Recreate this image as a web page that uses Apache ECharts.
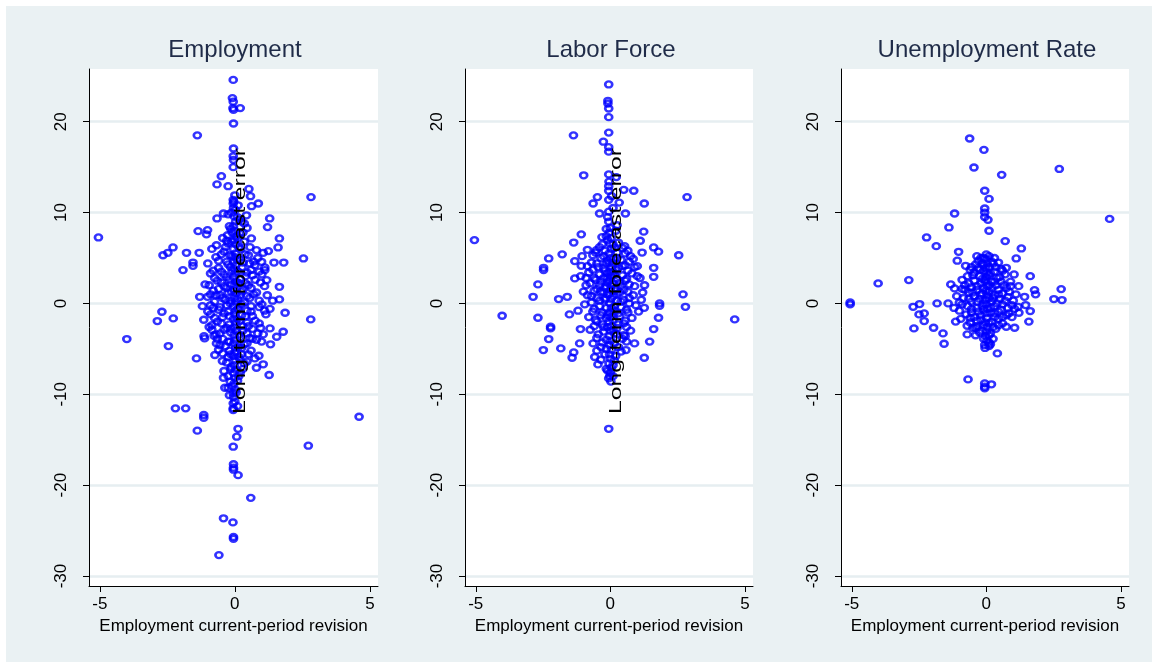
<!DOCTYPE html>
<html>
<head>
<meta charset="utf-8">
<script src="https://cdn.jsdelivr.net/npm/echarts@6/dist/echarts.min.js"></script>
<style>
html,body{margin:0;padding:0;background:#ffffff;width:1152px;height:662px;overflow:hidden;}
#c{position:absolute;left:6px;top:6px;width:1146px;height:656px;}
</style>
</head>
<body>
<div id="c"></div>
<script>
// ---- Data ----
const panelTitles = ['Employment', 'Labor Force', 'Unemployment Rate'];
const xAxisTitle = 'Employment current-period revision';
const yAxisTitle = 'Long-term forecast error';
const xTickValues = [-5, 0, 5];
const yTickValues = [-30, -20, -10, 0, 10, 20];

// [current-period revision, long-term forecast error]
const employmentPoints = [
[-0.06,24.6],[-0.09,22.6],[-0.06,22.2],[-0.07,21.5],[0.2,21.5],[-0.05,21.3],[-0.05,19.8],[-1.39,18.5],[-0.05,17.05],[-0.06,16.2],[-0.05,15.8],[-0.06,15.0],[-0.5,14.0],[-0.66,13.1],[-0.25,12.9],[0.52,12.6],[0.58,11.8],[2.82,11.7],[-0.06,11.4],[-0.06,11.0],[0.87,11.0],[0.62,10.7],[-0.05,10.5],[-0.42,9.9],[0.43,9.7],[-0.66,9.35],[1.29,9.35],[1.21,8.4],[-1.36,7.96],[-1.01,8.07],[-1.05,7.6],[-5.05,7.26],[-0.27,7.5],[0.61,7.15],[1.65,7.15],[-0.68,6.4],[-2.29,6.16],[1.6,6.16],[0.56,6.2],[0.8,5.87],[1.24,5.76],[-2.48,5.57],[-2.66,5.3],[-1.79,5.57],[-1.32,5.57],[1.05,5.57],[2.54,4.95],[-1.55,4.5],[-1.55,4.14],[-1.92,3.67],[1.45,4.5],[1.81,4.5],[0.99,4.58],[1.11,3.96],[1.11,3.67],[0.74,4.2],[1.18,2.57],[1.65,1.83],[1.65,0.44],[-1.3,0.73],[-1.01,0.73],[1.86,-1.03],[-2.7,-0.92],[-2.87,-1.94],[-2.28,-1.65],[2.81,-1.76],[1.79,-3.12],[1.55,-3.67],[1.3,-2.75],[1.32,-4.5],[0.99,-4.2],[-4.0,-3.92],[-2.46,-4.69],[-1.14,-3.6],[-1.12,-3.85],[-0.77,-3.56],[-0.68,-4.4],[-1.42,-6.05],[-0.74,-5.68],[-0.46,-6.34],[0.89,-5.76],[0.74,-6.05],[1.05,-6.7],[0.8,-7.08],[1.27,-7.88],[-0.4,-7.44],[-0.42,-8.18],[-0.37,-9.28],[-0.25,-9.28],[-0.06,-9.9],[-0.06,-11.0],[-0.06,-11.55],[-0.06,-11.73],[-2.2,-11.55],[-1.82,-11.55],[-1.15,-12.28],[-1.15,-12.58],[4.6,-12.47],[-1.39,-14.0],[0.12,-13.8],[0.07,-14.67],[-0.06,-15.77],[2.72,-15.66],[-0.05,-17.7],[-0.05,-18.08],[-0.05,-18.3],[0.12,-18.9],[0.59,-21.4],[-0.42,-23.65],[-0.07,-24.1],[-0.05,-25.7],[-0.05,-25.9],[-0.59,-27.7],
[0.0,11.9],[-0.04,11.2],[0.02,10.3],[-0.03,9.6],[0.03,9.0],[-0.05,8.5],[0.0,8.0],[0.05,7.4],[-0.02,7.0],[0.03,6.5],[-0.05,6.0],[0.02,5.5],[0.0,5.1],[-0.04,4.6],[0.04,4.2],[-0.02,3.8],[0.01,3.3],[-0.05,2.9],[0.03,2.4],[0.0,2.0],[-0.03,1.5],[0.04,1.1],[-0.01,0.6],[0.02,0.2],[-0.04,-0.3],[0.03,-0.8],[0.0,-1.2],[-0.05,-1.7],[0.02,-2.1],[-0.02,-2.6],[0.04,-3.0],[-0.03,-3.5],[0.01,-4.0],[-0.04,-4.4],[0.03,-4.9],[0.0,-5.4],[-0.05,-5.8],[0.02,-6.3],[-0.02,-6.8],[0.03,-7.3],[-0.04,-7.7],[0.0,-8.2],[-0.03,-8.8],[0.02,-9.5],[-0.05,-10.3],[0.0,-10.8],
[0.15,9.2],[-0.15,8.2],[0.18,7.7],[-0.12,6.8],[0.14,6.2],[-0.18,5.3],[0.2,4.8],[-0.16,4.0],[0.12,3.5],[-0.2,2.6],[0.17,2.2],[-0.13,1.3],[0.2,0.9],[-0.17,0.0],[0.14,-0.6],[-0.2,-1.4],[0.18,-1.9],[-0.14,-2.8],[0.16,-3.4],[-0.18,-4.2],[0.13,-4.8],[-0.15,-5.6],[0.19,-6.2],[-0.13,-7.0],[0.15,-8.0],[-0.17,-8.6],
[-0.35,6.2],[-0.5,5.4],[-0.3,4.6],[-0.6,3.9],[-0.4,3.2],[-0.75,2.8],[-0.5,2.3],[-0.3,1.7],[-0.8,1.4],[-0.55,0.9],[-0.35,0.4],[-0.9,-0.2],[-0.6,-0.7],[-0.4,-1.1],[-0.75,-1.6],[-0.5,-2.2],[-0.3,-2.7],[-0.85,-2.9],[-0.55,-3.3],[-0.35,-4.7],[-0.6,-5.1],[-1.0,4.4],[-0.9,3.3],[-1.1,2.1],[-1.0,-0.9],[-1.15,-1.8],[-0.95,-2.6],[-0.7,5.1],[-0.85,6.0],[-0.45,7.2],[0.35,6.8],[0.5,5.3],[0.3,4.5],[0.6,3.7],[0.4,3.0],[0.75,2.6],[0.5,2.0],[0.3,1.5],[0.8,1.2],[0.55,0.6],[0.35,0.1],[0.9,-0.4],[0.6,-0.9],[0.4,-1.4],[0.75,-1.9],[0.5,-2.5],[0.3,-3.0],[0.85,-3.3],[0.55,-3.8],[0.35,-4.5],[0.6,-5.2],[1.0,3.2],[1.1,1.9],[1.2,0.9],[1.0,-0.1],[1.15,-1.2],[0.95,-2.7],[0.7,4.6],[0.85,5.0],[0.45,8.3],[0.25,9.0],[1.3,-0.6],[1.4,0.3],[-1.2,-0.3],[0.25,-5.6],[-0.25,-5.9],[0.3,-7.2],[-0.3,6.9],[-0.2,8.5],[0.3,7.8],[0.65,-3.9],[-0.65,-3.9],[1.05,-3.4],[-0.9,1.0],[0.45,-6.4],
[-0.1,7.8],[0.1,7.2],[-0.25,6.6],[0.22,6.0],[-0.4,5.7],[0.38,5.4],[-0.1,5.2],[0.08,4.8],[-0.6,4.7],[0.55,4.4],[-0.25,4.3],[0.27,4.0],[-0.8,3.6],[0.9,3.5],[-0.1,3.6],[0.45,3.4],[-0.5,3.5],[0.65,3.1],[-0.3,2.9],[0.2,2.7],[-0.65,2.5],[0.1,2.3],[-0.15,2.1],[0.4,2.2],[-0.95,2.0],[0.95,2.3],[-0.4,1.9],[0.6,1.7],[-0.6,1.6],[0.25,1.3],[-0.25,1.2],[0.7,1.0],[-0.7,0.9],[0.45,0.8],[-0.45,0.6],[0.1,0.5],[-0.15,0.3],[0.9,0.3],[-0.75,0.2],[0.25,-0.1],[-0.3,-0.2],[0.6,-0.3],[-0.55,-0.4],[0.1,-0.6],[-0.8,-0.5],[0.45,-0.8],[-0.25,-0.9],[1.1,-0.8],[-0.9,-1.2],[0.25,-1.3],[-0.45,-1.5],[0.65,-1.4],[-0.65,-2.0],[0.1,-1.7],[0.45,-2.1],[-0.2,-2.3],[0.9,-2.2],[-0.85,-2.4],[0.3,-2.5],[-0.4,-2.9],[0.65,-2.8],[-0.15,-3.2],[0.45,-3.3],[-0.7,-3.4],[0.2,-3.7],[-0.45,-3.9],[0.8,-4.0],[-0.25,-4.2],[0.45,-4.4],[-0.55,-4.6],[0.25,-4.9],[-0.2,-5.2],[0.5,-5.6],[-0.45,-5.5],[0.15,-5.9],[-0.3,-6.5],[0.35,-6.6],[-0.15,-7.2],[0.2,-7.6],[-0.25,-8.0],[0.1,-8.5],[-0.1,-9.1],[0.05,-9.8],[-0.2,-10.1],[0.1,-11.3],[0.12,10.8],[-0.12,10.0],[0.1,9.5],[-0.25,9.8],[0.35,8.8]
];

const laborForcePoints = [
[-0.06,24.1],[-0.09,22.3],[-0.09,22.0],[-0.06,21.45],[-0.06,20.5],[-1.37,18.5],[-0.06,18.8],[-0.26,17.8],[-0.06,17.2],[-0.06,16.7],[-0.99,14.1],[-0.06,14.2],[0.22,13.9],[-0.06,12.9],[-0.06,12.4],[0.5,12.5],[0.87,12.4],[2.85,11.7],[-0.48,11.7],[-0.64,11.0],[-0.06,11.4],[0.33,11.1],[1.26,11.0],[-0.4,9.9],[0.56,9.9],[-0.06,10.1],[-0.06,9.0],[0.25,8.6],[-1.08,7.6],[1.24,7.9],[-5.05,6.97],[-1.36,6.7],[1.11,6.9],[-0.31,7.3],[0.53,6.3],[1.61,6.16],[1.79,5.7],[1.18,5.6],[2.54,5.3],[-1.79,5.4],[-2.29,4.95],[-0.52,5.87],[-2.48,3.92],[-2.48,3.67],[-1.32,4.66],[-1.08,4.14],[-2.69,2.09],[-2.87,0.73],[-1.92,0.48],[-1.6,0.73],[-1.32,2.75],[1.61,3.92],[1.61,2.93],[1.27,2.0],[2.7,1.0],[2.79,-0.37],[1.83,0.0],[1.83,-0.26],[1.26,-0.48],[1.79,-1.58],[1.61,-2.82],[1.46,-4.2],[1.26,-5.98],[0.9,-4.4],[0.58,-5.13],[0.5,-3.48],[4.62,-1.76],[-4.02,-1.36],[-2.69,-1.58],[-2.22,-2.57],[-2.22,-2.75],[-2.29,-3.92],[-2.49,-5.13],[-1.84,-4.95],[-1.52,-1.21],[-1.42,-5.98],[-1.36,-5.39],[-1.14,-4.4],[-1.11,-2.82],[-0.64,-4.4],[-0.58,-5.9],[-0.46,-6.71],[-0.06,-8.25],[-0.06,-13.8],
[0.0,8.3],[-0.04,7.8],[0.03,7.2],[-0.02,6.6],[0.04,6.0],[-0.05,5.5],[0.01,5.0],[-0.03,4.5],[0.05,4.0],[-0.01,3.5],[0.02,3.0],[-0.04,2.5],[0.03,2.0],[0.0,1.5],[-0.05,1.0],[0.02,0.5],[-0.02,0.0],[0.04,-0.5],[-0.03,-1.0],[0.01,-1.5],[-0.05,-2.0],[0.03,-2.5],[0.0,-3.0],[-0.04,-3.6],[0.02,-4.1],[-0.02,-4.6],[0.04,-5.1],[-0.03,-5.6],[0.01,-6.1],[-0.05,-6.6],[0.03,-7.1],[0.0,-7.6],[-0.02,-8.0],[0.02,-8.6],
[-0.3,6.5],[-0.55,5.6],[-0.25,5.2],[-0.7,4.5],[-0.45,4.0],[-0.2,3.6],[-0.8,3.4],[-0.6,2.8],[-0.35,2.4],[-0.9,2.0],[-0.5,1.6],[-0.25,1.2],[-0.7,0.8],[-0.4,0.3],[-0.95,-0.1],[-0.6,-0.6],[-0.3,-1.0],[-0.8,-1.5],[-0.5,-2.0],[-0.25,-2.6],[-0.75,-2.9],[-0.45,-3.4],[-0.3,-4.3],[-0.5,-5.2],[-1.1,3.0],[-1.0,1.3],[-1.2,-0.8],[-1.05,5.2],[0.3,6.7],[0.55,5.5],[0.25,5.0],[0.7,4.6],[0.45,4.1],[0.2,3.7],[0.8,3.3],[0.6,2.7],[0.35,2.3],[0.9,1.9],[0.5,1.5],[0.25,1.0],[0.7,0.6],[0.4,0.2],[0.95,-0.2],[0.6,-0.7],[0.3,-1.1],[0.8,-1.6],[0.5,-2.2],[0.25,-2.7],[0.75,-3.0],[0.45,-3.9],[0.3,-4.8],[1.1,2.8],[1.0,4.1],[1.2,1.2],[1.05,-0.9],[1.15,0.4],[0.65,5.8],[-0.15,7.4],[0.15,6.1],[-0.15,4.4],[0.15,3.1],[-0.15,1.9],[0.15,-0.3],[-0.15,-1.6],[0.15,-3.3],[-0.15,-5.0],[0.15,-6.3],[-0.15,-7.2],[0.12,4.9],[-0.12,2.8],[0.18,1.4],[-0.18,0.6],[0.85,4.9],[-0.85,5.9],[0.6,-4.2],
[-0.1,7.0],[0.1,6.5],[-0.4,6.2],[0.45,6.1],[-0.2,5.8],[0.25,5.6],[-0.65,5.3],[0.75,5.2],[-0.35,5.0],[0.4,4.8],[-0.1,4.7],[0.1,4.4],[-0.5,4.4],[0.55,4.2],[-0.85,4.1],[0.9,4.0],[-0.25,3.9],[0.3,3.9],[-0.65,3.7],[0.65,3.6],[-0.1,3.3],[0.1,3.4],[-0.4,3.2],[0.45,3.1],[-0.9,2.8],[1.0,3.0],[-0.25,2.8],[0.25,2.7],[-0.55,2.6],[0.55,2.5],[-0.1,2.3],[0.1,2.2],[-0.75,2.2],[0.7,2.1],[-0.4,2.0],[0.4,1.9],[-0.2,1.7],[0.2,1.7],[-0.6,1.4],[0.65,1.3],[-0.35,1.3],[0.35,1.2],[-0.1,1.0],[0.1,0.8],[-0.85,0.9],[0.85,0.9],[-0.5,0.6],[0.5,0.4],[-0.2,0.4],[0.25,0.3],[-0.7,0.1],[0.7,0.0],[-0.4,-0.3],[0.4,-0.4],[-0.15,-0.5],[0.15,-0.8],[-0.65,-0.9],[0.65,-1.0],[-0.35,-1.3],[0.35,-1.4],[-0.1,-1.3],[0.1,-1.8],[-0.55,-1.8],[0.55,-1.9],[-0.3,-2.3],[0.3,-2.3],[-0.1,-2.6],[0.1,-2.9],[-0.6,-2.5],[0.6,-2.6],[-0.25,-3.1],[0.25,-3.4],[-0.5,-3.8],[0.55,-3.6],[-0.15,-4.0],[0.15,-4.4],[-0.35,-4.8],[0.4,-5.3],[-0.2,-5.6],[0.2,-5.8],[-0.35,-6.2],[0.1,-6.8],[-0.1,-7.4],[0.1,-8.0],[-0.1,9.5],[0.1,10.5],[-0.15,8.2],[0.2,8.0],[0.05,11.8],[-0.05,13.4]
];

const unemploymentRatePoints = [
[-0.62,18.15],[-0.09,16.9],[-0.46,14.96],[0.57,14.15],[2.71,14.8],[-0.06,12.4],[0.1,11.5],[-1.18,9.9],[-0.06,10.45],[-0.06,10.0],[-0.06,9.5],[0.06,9.2],[4.58,9.3],[-1.39,8.36],[0.1,8.0],[-2.22,7.26],[-1.86,6.3],[0.7,6.86],[1.3,6.05],[1.11,4.95],[-1.03,5.68],[-1.08,4.7],[-0.77,4.14],[1.63,3.0],[1.03,3.19],[0.74,3.92],[-4.02,2.2],[-2.88,2.57],[-1.32,2.09],[-1.18,1.65],[2.78,1.58],[1.79,1.47],[1.83,1.0],[2.51,0.48],[2.81,0.37],[-5.06,-0.11],[-5.06,0.1],[-2.48,-0.07],[-2.72,-0.37],[-1.83,0.0],[-1.42,0.0],[-2.5,-1.21],[-2.31,-1.1],[-2.31,-1.94],[-2.69,-2.75],[-1.96,-2.68],[-1.61,-3.3],[-1.57,-4.44],[-1.14,-2.0],[-0.71,-2.46],[-0.71,-3.41],[-0.4,-2.68],[0.74,-2.57],[1.05,-2.68],[1.58,-2.0],[1.63,-0.84],[1.21,-1.03],[1.18,-0.37],[1.46,-0.18],[1.42,0.73],[0.84,-1.1],[-0.06,-4.58],[0.1,-4.69],[0.41,-5.5],[-0.68,-8.36],[-0.06,-8.8],[-0.06,-9.17],[-0.06,-9.35],[0.19,-8.9],
[0.0,5.4],[-0.03,4.9],[0.03,4.4],[-0.02,3.9],[0.02,3.4],[0.0,2.9],[-0.04,2.4],[0.03,1.9],[-0.01,1.4],[0.02,0.9],[-0.03,0.4],[0.0,-0.1],[0.04,-0.6],[-0.02,-1.1],[0.01,-1.6],[-0.04,-2.1],[0.03,-2.6],[0.0,-3.1],[-0.02,-3.6],[0.02,-4.1],
[-0.2,5.0],[0.2,4.6],[-0.4,4.3],[0.35,4.0],[-0.25,3.7],[0.15,3.3],[-0.5,3.1],[0.5,2.9],[-0.15,2.7],[0.3,2.4],[-0.65,2.2],[0.65,2.0],[-0.35,1.9],[0.2,1.7],[-0.8,1.5],[0.85,1.3],[-0.5,1.2],[0.45,1.0],[-0.2,0.9],[0.25,0.6],[-0.65,0.5],[0.7,0.3],[-0.35,0.2],[0.4,0.0],[-0.9,-0.1],[0.95,-0.2],[-0.15,-0.3],[0.15,-0.5],[-0.55,-0.6],[0.55,-0.7],[-0.3,-0.9],[0.3,-1.1],[-0.75,-1.2],[0.75,-1.3],[-0.45,-1.5],[0.45,-1.7],[-0.2,-1.8],[0.2,-2.0],[-0.6,-2.1],[0.6,-2.2],[-0.35,-2.5],[0.35,-2.8],[-0.15,-3.0],[0.15,-3.3],[-0.4,-3.5],[0.25,-3.9],[1.1,1.0],[-1.1,0.8],[1.05,-0.6],[-1.0,-0.8],[0.6,3.6],[-0.6,3.7],[0.9,2.4],[-0.9,2.6],[0.1,-4.3],[-0.1,4.2],[0.3,5.0],[-0.35,5.2],[1.2,1.9],[-1.2,-0.5],
[-0.1,5.0],[0.1,5.2],[-0.3,4.7],[0.25,4.4],[-0.15,4.4],[0.45,4.5],[-0.55,4.0],[0.1,4.0],[-0.3,3.9],[0.55,3.8],[-0.1,3.6],[0.3,3.5],[-0.45,3.4],[0.7,3.2],[-0.7,3.0],[0.1,3.1],[-0.25,3.0],[0.4,2.8],[-0.05,2.6],[0.2,2.4],[-0.45,2.5],[0.55,2.4],[-0.8,2.0],[0.1,2.0],[-0.2,2.2],[0.35,2.0],[-0.55,1.8],[0.75,1.7],[-0.1,1.7],[0.45,1.5],[-0.35,1.5],[0.1,1.3],[-0.65,1.2],[0.6,1.1],[-0.15,1.1],[0.3,0.9],[-0.45,0.8],[0.8,0.7],[-0.85,0.6],[0.1,0.6],[-0.25,0.5],[0.5,0.5],[-0.55,0.2],[0.2,0.2],[-0.1,0.0],[0.6,-0.1],[-0.7,-0.3],[0.3,-0.3],[-0.35,-0.5],[0.8,-0.5],[-0.1,-0.7],[0.45,-0.9],[-0.55,-1.0],[0.15,-1.0],[-0.2,-1.3],[0.6,-1.5],[-0.6,-1.6],[0.3,-1.5],[-0.35,-1.9],[0.1,-2.2],[-0.1,-2.4],[0.45,-2.4],[-0.5,-2.7],[0.25,-2.6],[-0.25,-3.2],[0.1,-3.5],[-0.1,-3.9],[0.15,-4.5],[-0.05,-4.9],[0.9,1.9],[-0.9,1.6],[1.0,0.3],[-1.0,0.1],[0.95,-1.5],[-0.95,-1.7]
];

const panelData = [employmentPoints, laborForcePoints, unemploymentRatePoints];
const showYTitle = [true, true, false];

// ---- Layout / styles ----
const FONT = '"Liberation Sans", Arial, sans-serif';
const gridLefts = [83, 459, 835];
const gridWidths = [289, 288, 288];
const gridTop = 63, gridHeight = 517;
const BG = '#eaf1f3';

const chart = echarts.init(document.getElementById('c'), null, {renderer: 'canvas'});

const grids = [], xAxes = [], yAxes = [], series = [], graphics = [];
for (let i = 0; i < 3; i++) {
  grids.push({left: gridLefts[i], top: gridTop, width: gridWidths[i], height: gridHeight,
    show: true, backgroundColor: '#ffffff', borderWidth: 0, containLabel: false});
  xAxes.push({
    gridIndex: i, type: 'value', min: -5.4, max: 5.3,
    axisLine: {show: true, onZero: false, lineStyle: {color: '#000', width: 1}},
    axisTick: {show: true, length: 6, customValues: xTickValues, lineStyle: {color: '#000', width: 1}},
    axisLabel: {show: true, customValues: xTickValues, margin: 10, fontSize: 17, color: '#000', fontFamily: FONT},
    splitLine: {show: false},
    name: xAxisTitle, nameLocation: 'middle', nameGap: 28,
    nameTextStyle: {fontSize: 17, color: '#000', fontFamily: FONT}
  });
  yAxes.push({
    gridIndex: i, type: 'value', min: -31.1, max: 25.8,
    axisLine: {show: true, onZero: false, lineStyle: {color: '#000', width: 1}},
    axisTick: {show: true, length: 6, customValues: yTickValues, lineStyle: {color: '#000', width: 1}},
    axisLabel: {show: true, customValues: yTickValues, rotate: 90, margin: 19, fontSize: 17, color: '#000', fontFamily: FONT},
    splitLine: {show: true, lineStyle: {color: '#e6eef1', width: 2.5}}
  });
  series.push({
    type: 'scatter', xAxisIndex: i, yAxisIndex: i,
    data: panelData[i], symbol: 'circle', symbolSize: [7, 6],
    itemStyle: {color: 'rgba(0,0,0,0)', borderColor: '#0000ff', borderWidth: 2.5},
    emphasis: {disabled: true}, silent: true, z: 3
  });
  const cx = gridLefts[i] + 146;
  graphics.push({type: 'text', x: cx, y: 44, z: 100,
    style: {text: panelTitles[i], fill: '#1f2b48', fontSize: 24, fontFamily: FONT, align: 'center', verticalAlign: 'middle'}});
  if (showYTitle[i]) {
    graphics.push({type: 'text', x: gridLefts[i] + 151, y: 275, rotation: Math.PI / 2, scaleX: 1.45, z: 100,
      style: {text: yAxisTitle, fill: '#000', fontSize: 17, fontFamily: FONT, align: 'center', verticalAlign: 'middle'}});
  }
}

chart.setOption({
  backgroundColor: BG,
  animation: false,
  grid: grids,
  xAxis: xAxes,
  yAxis: yAxes,
  series: series,
  graphic: graphics
});
</script>
</body>
</html>
